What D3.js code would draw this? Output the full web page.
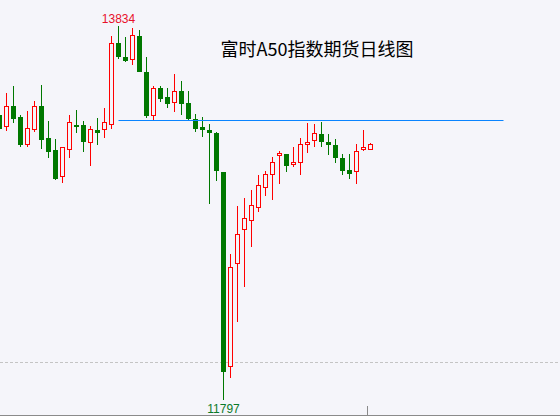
<!DOCTYPE html>
<html>
<head>
<meta charset="utf-8">
<script src="https://cdn.jsdelivr.net/npm/d3@7"></script>
<style>
  html, body { margin: 0; padding: 0; background: #f5f5fa; }
  svg { display: block; }
</style>
</head>
<body>
<svg id="chart" width="560" height="416"></svg>
<script>
var title = "富时A50指数期货日线图";
// 日K数据（开 高 低 收）
var opens  = [13349,13284,13398,13338,13186,13268,13398,13224,13159,13012,13159,13295,13295,13197,13268,13273,13300,13741,13665,13654,13780,13584,13344,13496,13447,13415,13480,13415,13328,13284,13268,13251,13039,11977,12538,12723,12777,12843,12957,13023,13131,13137,13077,13088,13191,13208,13246,13202,13186,13115,13050,13039,13159,13159];
var highs  = [13366,13469,13507,13349,13371,13426,13513,13317,13219,13175,13349,13377,13317,13289,13333,13387,13780,13834,13774,13823,13812,13665,13507,13507,13496,13573,13534,13480,13355,13338,13300,13257,13039,12592,12854,12897,12941,13023,13044,13121,13153,13137,13175,13224,13306,13300,13311,13246,13219,13137,13137,13191,13268,13197];
var lows   = [13262,13262,13306,13175,13175,13257,13164,13115,12995,12979,13115,13251,13148,13072,13186,13224,13273,13654,13638,13622,13584,13333,13322,13420,13387,13366,13349,13317,13257,13229,12865,12990,11797,11917,12222,12413,12630,12821,12908,12886,12973,13039,13066,13023,13142,13175,13175,13131,13088,13023,13001,12973,13153,13159];
var closes = [13273,13393,13328,13186,13278,13398,13213,13148,13001,13170,13311,13284,13202,13268,13251,13306,13741,13665,13643,13780,13584,13344,13491,13436,13409,13475,13409,13328,13273,13268,13251,13044,11950,12521,12701,12783,12859,12963,13023,13088,13142,13072,13088,13186,13202,13246,13202,13186,13115,13044,13028,13153,13170,13191];
var refLine = 13322;      // 蓝色参考线
var refFrom = 17, refTo = 72;
var dashLevel = 12004;    // 灰色虚线
var tickAt = [52.5];

var svg = d3.select('#chart');
var W = 560, H = 416;
var red = '#ff0000', green = '#007800', bg = '#f5f5fa';

//比例尺
var x = d3.scaleLinear().domain([0, 80]).range([-0.5, 559.5]);
var y = d3.scaleLinear().domain([d3.min(lows), d3.max(highs)]).range([400, 26]);

svg.append('rect').attr('width', W).attr('height', H).attr('fill', bg);

// 虚线
svg.append('line')
  .attr('x1', 0).attr('x2', W)
  .attr('y1', Math.round(y(dashLevel)) + 0.5).attr('y2', Math.round(y(dashLevel)) + 0.5)
  .attr('stroke', '#c4c4c4').attr('stroke-dasharray', '3,2');

// 底部轴
svg.append('line')
  .attr('x1', 0).attr('x2', W).attr('y1', 415.5).attr('y2', 415.5)
  .attr('stroke', '#8a8a8a');
svg.selectAll('.tk').data(tickAt).enter().append('line')
  .attr('x1', function(d){ return Math.round(x(d)) + 0.5; })
  .attr('x2', function(d){ return Math.round(x(d)) + 0.5; })
  .attr('y1', 406).attr('y2', 415)
  .attr('stroke', '#8a8a8a');

var idx = d3.range(opens.length);
var g = svg.append('g').attr('shape-rendering', 'crispEdges');

// 影线
g.selectAll('.wick').data(idx).enter().append('line')
  .attr('x1', function(i){ return x(i); })
  .attr('x2', function(i){ return x(i); })
  .attr('y1', function(i){ return y(highs[i]); })
  .attr('y2', function(i){ return y(lows[i]); })
  .attr('stroke', function(i){ return closes[i] >= opens[i] ? red : green; })
  .attr('stroke-width', 1);

// 实体
g.selectAll('.body').data(idx).enter().append('rect')
  .attr('x', function(i){ return closes[i] >= opens[i] ? x(i) - 2 : x(i) - 2.5; })
  .attr('width', function(i){ return closes[i] >= opens[i] ? 4 : 5; })
  .attr('y', function(i){ return y(Math.max(opens[i], closes[i])); })
  .attr('height', function(i){ return Math.max(1, Math.abs(y(opens[i]) - y(closes[i]))); })
  .attr('fill', function(i){ return closes[i] >= opens[i] ? bg : green; })
  .attr('stroke', function(i){ return closes[i] >= opens[i] ? red : 'none'; })
  .attr('stroke-width', 1);

// 参考线
svg.append('line')
  .attr('x1', x(refFrom)).attr('x2', x(refTo))
  .attr('y1', Math.round(y(refLine)) + 0.5).attr('y2', Math.round(y(refLine)) + 0.5)
  .attr('stroke', '#0a84ff').attr('stroke-width', 1);

// 最高 / 最低
var hi = d3.maxIndex(highs), lo = d3.minIndex(lows);
svg.append('text')
  .attr('x', x(hi)).attr('y', y(highs[hi]) - 3)
  .attr('text-anchor', 'middle')
  .attr('font-family', 'Liberation Sans, Arial, sans-serif').attr('font-size', 12)
  .attr('fill', '#e8102a').text(highs[hi]);
svg.append('text')
  .attr('x', x(lo)).attr('y', y(lows[lo]) + 13)
  .attr('text-anchor', 'middle')
  .attr('font-family', 'Liberation Sans, Arial, sans-serif').attr('font-size', 12)
  .attr('fill', '#0a7a28').text(lows[lo]);

// 标题
svg.append('text')
  .attr('x', 317).attr('y', 48)
  .attr('text-anchor', 'middle').attr('dominant-baseline', 'central')
  .attr('font-family', '"Noto Sans CJK SC", sans-serif').attr('font-size', 18)
  .attr('fill', '#000').text(title);
</script>
</body>
</html>
